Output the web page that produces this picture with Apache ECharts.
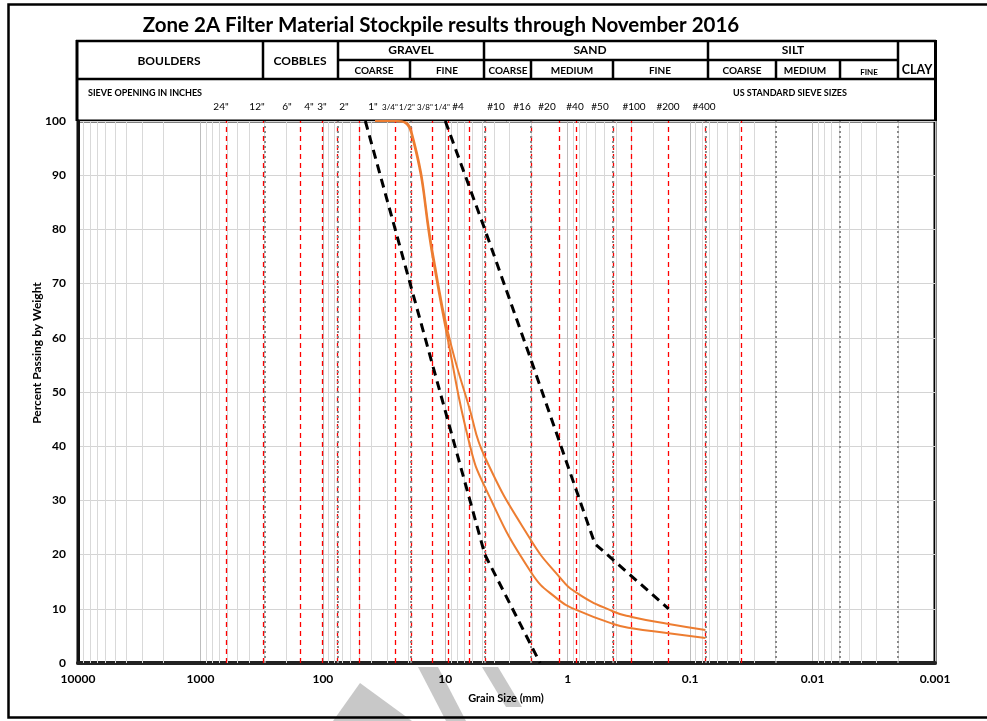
<!DOCTYPE html>
<html><head><meta charset="utf-8">
<script src="https://cdn.jsdelivr.net/npm/echarts@6/dist/echarts.min.js"></script>
<style>html,body{margin:0;padding:0;background:#fff}#c{width:987px;height:721px}</style>
</head><body><div id="c"></div><script>
// ---------------- DATA ----------------
const xTickValues = [10000, 1000, 100, 10, 1, 0.1, 0.01, 0.001];
const yTickValues = [0, 10, 20, 30, 40, 50, 60, 70, 80, 90, 100];
const sieveOpeningsMm = [609.6, 304.8, 152.4, 101.6, 76.2, 50.8, 25.4, 19.05, 12.7, 9.525, 6.35, 4.75, 2.0, 1.18, 0.85, 0.425, 0.3, 0.15, 0.075, 0.038];
const classBoundariesMm = [300, 75, 19, 4.75, 2, 0.425, 0.075, 0.02, 0.006, 0.002];
const decadeStarts = [0.001, 0.01, 0.1, 1, 10, 100, 1000];
const minorMultipliers = [2, 3, 4, 5, 6, 7, 8, 9];
// stockpile gradation results [grain size mm, % passing]
const stockpileUpper = [[37.5,100],[25,100],[19,98.3],[12.5,75],[9.5,61],[6.35,47],[4.75,38],[2.0,22.7],[1.18,16],[0.85,13],[0.425,9.5],[0.3,8.5],[0.15,7.2],[0.075,6.1]];
const stockpileLower = [[37.5,100],[25,100],[19,97.8],[12.5,74],[9.5,59.5],[6.35,40.5],[4.75,32.5],[2.0,16.8],[1.18,11.6],[0.85,9.8],[0.425,7.2],[0.3,6.4],[0.15,5.5],[0.075,4.6]];
// specification limits
const specCoarseLimit = [[45,100],[4.75,20],[1.68,0]];
const specFineLimit = [[10,100],[4.75,80],[2.0,56],[0.6,22],[0.15,10]];
// text
const titleText = 'Zone 2A Filter Material Stockpile results through November 2016';
const inchLabels = ['24"', '12"', '6"', '4"', '3"', '2"', '1"'];
const fractionLabels = ['3/4"', '1/2"', '3/8"', '1/4"'];
const sieveNoLabels = ['#4', '#10', '#16', '#20', '#40', '#50', '#100', '#200', '#400'];
const mainClasses = ['BOULDERS', 'COBBLES', 'GRAVEL', 'SAND', 'SILT', 'CLAY'];
const subClasses = ['COARSE', 'FINE', 'COARSE', 'MEDIUM', 'FINE', 'COARSE', 'MEDIUM', 'FINE'];

// ---------------- LAYOUT ----------------
const FONT = 'Lato, "Liberation Sans", sans-serif';
const inchLabelX = [221, 257, 287, 309, 322, 344, 373];
const fractionLabelX = [390, 407, 425, 442];
const sieveNoLabelX = [458, 496, 522, 547, 575, 600, 634, 668, 704];
const mainClassPos = [[169,61,12],[300,61,12],[411,50,12],[590,50,12],[793,50,12],[917,70,12.5]];
const subClassPos = [[374,71,10],[447,71,10],[508,71,10],[572,71,10],[660,71,10],[742,71,10],[805,71,10],[869,72,8]];

const chart = echarts.init(document.getElementById('c'), null, {renderer: 'canvas'});

const minorVals = [];
decadeStarts.forEach(d => minorMultipliers.forEach(m => minorVals.push(d * m)));

function vlines(vals) { return vals.map(v => ({coords: [[v, 0], [v, 100]]})); }

const graphics = [];
graphics.push({type:'rect', shape:{x:8.5, y:4.5, width:990, height:713}, style:{fill:'none', stroke:'#000', lineWidth:2.5}, z:100});
graphics.push({type:'text', style:{x:441, y:25, text:titleText, textAlign:'center', textVerticalAlign:'middle', font:'bold 20.5px ' + FONT, fill:'#000'}, z:100});
const L = (x1,y1,x2,y2,w) => graphics.push({type:'line', shape:{x1,y1,x2,y2}, style:{stroke:'#000', lineWidth:w||2.5}, z:100});
L(76, 41, 936, 41);
L(76, 79, 936, 79);
L(338, 60, 898, 60);
L(77, 40, 77, 121, 3);
L(935.5, 40, 935.5, 121, 3);
[263, 338, 484, 708, 898].forEach(x => L(x, 41, x, 79));
[410, 531, 613, 776, 840].forEach(x => L(x, 60, x, 79));
mainClasses.forEach((t,i) => graphics.push({type:'text', style:{x:mainClassPos[i][0], y:mainClassPos[i][1], text:t, textAlign:'center', textVerticalAlign:'middle', font:'bold ' + mainClassPos[i][2] + 'px ' + FONT, fill:'#000'}, z:100}));
subClasses.forEach((t,i) => graphics.push({type:'text', style:{x:subClassPos[i][0], y:subClassPos[i][1], text:t, textAlign:'center', textVerticalAlign:'middle', font:'bold ' + subClassPos[i][2] + 'px ' + FONT, fill:'#000'}, z:100}));
graphics.push({type:'text', style:{x:88, y:93, text:'SIEVE OPENING IN INCHES', textAlign:'left', textVerticalAlign:'middle', font:'bold 9px ' + FONT, fill:'#000'}, z:100});
graphics.push({type:'text', style:{x:790, y:93, text:'US STANDARD SIEVE SIZES', textAlign:'center', textVerticalAlign:'middle', font:'bold 9px ' + FONT, fill:'#000'}, z:100});
inchLabels.forEach((t,i) => graphics.push({type:'text', style:{x:inchLabelX[i], y:107, text:t, textAlign:'center', textVerticalAlign:'middle', font:'10px ' + FONT, fill:'#000'}, z:100}));
fractionLabels.forEach((t,i) => graphics.push({type:'text', style:{x:fractionLabelX[i], y:107.5, text:t, textAlign:'center', textVerticalAlign:'middle', font:'8px ' + FONT, fill:'#000'}, z:100}));
sieveNoLabels.forEach((t,i) => graphics.push({type:'text', style:{x:sieveNoLabelX[i], y:107, text:t, textAlign:'center', textVerticalAlign:'middle', font:'10px ' + FONT, fill:'#000'}, z:100}));
graphics.push({type:'text', rotation:Math.PI/2, x:37, y:353, style:{x:0, y:0, text:'Percent Passing by Weight', textAlign:'center', textVerticalAlign:'middle', font:'bold 12px ' + FONT, fill:'#000'}, z:100});
graphics.push({type:'text', style:{x:506, y:698, text:'Grain Size (mm)', textAlign:'center', textVerticalAlign:'middle', font:'bold 11px ' + FONT, fill:'#000'}, z:100});
const WM = pts => graphics.push({type:'polygon', shape:{points:pts}, style:{fill:'#c8c8c8'}, z:-1});
WM([[333,721],[360,683],[412,721]]);
WM([[418,667],[438,667],[466,721],[446,721]]);
WM([[482,667],[498,667],[522,707],[506,707]]);

const lineSeries = (vals, style, z) => ({type: 'lines', coordinateSystem: 'cartesian2d', silent: true, z: z,
  polyline: false, lineStyle: style, data: vlines(vals), animation: false});

const option = {
  animation: false,
  backgroundColor: '#fff',
  grid: {left: 78, right: 52, top: 121, bottom: 58, show: true, borderColor: '#000', borderWidth: 3, backgroundColor: 'transparent'},
  xAxis: {
    type: 'log', logBase: 10, min: 0.001, max: 10000, inverse: true, splitNumber: 7,
    axisLine: {show: true, lineStyle: {color: '#222', width: 4}},
    axisTick: {show: false},
    axisLabel: {fontFamily: FONT, fontWeight: 'bold', fontSize: 12, color: '#000', margin: 10,
      formatter: v => String(Number(Number(v).toPrecision(1)))},
    splitLine: {show: true, lineStyle: {color: '#bdbdbd', width: 1}}
  },
  yAxis: {
    type: 'value', min: 0, max: 100, interval: 10,
    axisLine: {show: true, lineStyle: {color: '#111', width: 3}},
    axisTick: {show: false},
    axisLabel: {fontFamily: FONT, fontWeight: 'bold', fontSize: 12, color: '#000', margin: 12},
    splitLine: {show: true, lineStyle: {color: '#d4d4d4', width: 1}}
  },
  graphic: graphics,
  series: [
    lineSeries(minorVals, {color: '#d9d9d9', width: 1, type: 'solid', opacity: 1}, 1),
    lineSeries(sieveOpeningsMm, {color: '#ff0000', width: 1.3, type: [5, 4], opacity: 1}, 2),
    lineSeries(classBoundariesMm, {color: '#8a8a8a', width: 2, type: [2, 3], opacity: 1}, 3),
    {name: 'Stockpile A', type: 'line', data: stockpileUpper, z: 4, smooth: 0.5, showSymbol: false,
     lineStyle: {color: '#ED7D31', width: 2}},
    {name: 'Stockpile B', type: 'line', data: stockpileLower, z: 4, smooth: 0.5, showSymbol: false,
     lineStyle: {color: '#ED7D31', width: 2}},
    {name: 'Coarse limit', type: 'line', data: specCoarseLimit, z: 5, showSymbol: false,
     lineStyle: {color: '#000', width: 3, type: [9, 6]}},
    {name: 'Fine limit', type: 'line', data: specFineLimit, z: 5, showSymbol: false,
     lineStyle: {color: '#000', width: 3, type: [9, 6]}}
  ]
};
chart.setOption(option);
</script></body></html>
